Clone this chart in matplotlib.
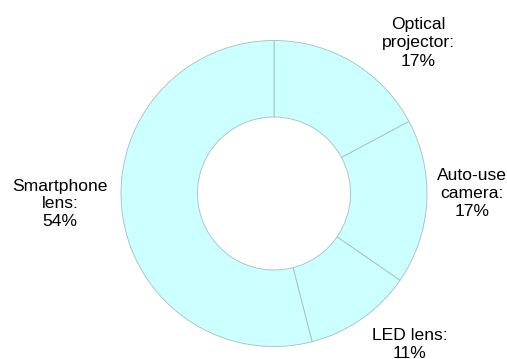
import matplotlib
matplotlib.use("Agg")
import matplotlib.pyplot as plt

categories = ["Optical\nprojector:", "Auto-use\ncamera:", "LED lens:", "Smartphone\nlens:"]
values = [17.2, 17.4, 11.4, 54.0]
pct_labels = ["17%", "17%", "11%", "54%"]

W, H = 507, 359
fig = plt.figure(figsize=(W / 100, H / 100), dpi=100)
ax = fig.add_axes([0, 0, 1, 1])
ax.set_xlim(0, W)
ax.set_ylim(0, H)
ax.set_aspect("equal")
ax.axis("off")

cx, cy, r = 274, H - 193.5, 153
ax.pie(values, center=(cx, cy), radius=r, startangle=90, counterclock=False,
       colors=["#CCFFFF"] * 4,
       wedgeprops=dict(width=r * 0.5, edgecolor="#A8BDBD", linewidth=0.6))
ax.set_xlim(0, W)
ax.set_ylim(0, H)

label_pos = [(418, 43), (472, 194), (410, 345), (60, 204)]
for cat, pct, (x, y) in zip(categories, pct_labels, label_pos):
    ax.text(x, H - y, f"{cat}\n{pct}", ha="center", va="center",
            fontsize=12.6, family="Liberation Sans", linespacing=1.25, color="black")

fig.savefig("out.png", dpi=100)
